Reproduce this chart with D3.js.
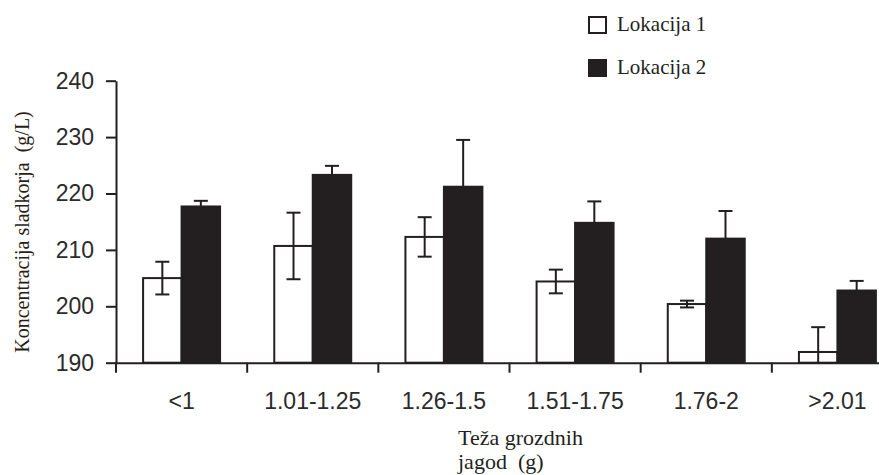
<!DOCTYPE html>
<meta charset="utf-8">
<script src="https://d3js.org/d3.v7.min.js"></script>
<div id="chart"></div>
<style>
  body { margin: 0; background: #fff; }
  text { white-space: pre; }
</style>
<script>

// data
var categories = ["<1", "1.01-1.25", "1.26-1.5", "1.51-1.75", "1.76-2", ">2.01"];
var lok1 = [205.0, 210.7, 212.3, 204.4, 200.4, 191.9];
var lok1Err = [2.9, 5.9, 3.5, 2.1, 0.6, 4.4];
var lok2 = [217.7, 223.3, 221.2, 214.8, 212.0, 202.8];
var lok2Err = [1.0, 1.6, 8.3, 3.8, 4.9, 1.7];
var yTicks = [190, 200, 210, 220, 230, 240];
var seriesNames = ["Lokacija 1", "Lokacija 2"];

var ink = "#231f20";
var width = 879, height = 475;

var svg = d3.select("#chart").append("svg")
    .attr("width", width)
    .attr("height", height);

var x = d3.scaleBand().domain(categories).range([116, 903]).padding(0);
var xSub = d3.scaleBand().domain(seriesNames).range([0, x.bandwidth()])
    .paddingInner(0).paddingOuter(0.704);
var y = d3.scaleLinear().domain([190, 240]).range([362.7, 80.7]);

// build rows
var rows = [];
categories.forEach(function(c, i) {
  rows.push({cat: c, s: seriesNames[0], v: lok1[i], e: lok1Err[i]});
  rows.push({cat: c, s: seriesNames[1], v: lok2[i], e: lok2Err[i]});
});

// bars
svg.append("g").selectAll("rect")
  .data(rows)
  .enter().append("rect")
    .attr("x", function(d) { return x(d.cat) + xSub(d.s); })
    .attr("y", function(d) { return y(d.v); })
    .attr("width", xSub.bandwidth())
    .attr("height", function(d) { return y(190) - y(d.v); })
    .attr("fill", function(d) { return d.s == seriesNames[0] ? "#fff" : ink; })
    .attr("stroke", ink)
    .attr("stroke-width", 2);

// error bars
var err = svg.append("g").attr("stroke", ink).attr("stroke-width", 2)
  .selectAll("g").data(rows).enter().append("g")
    .attr("transform", function(d) { return "translate(" + (x(d.cat) + xSub(d.s) + xSub.bandwidth() / 2) + ",0)"; });
err.append("line")
    .attr("y1", function(d) { return y(Math.max(190, d.v - d.e)); })
    .attr("y2", function(d) { return y(d.v + d.e); });
err.append("line")
    .attr("x1", -7).attr("x2", 7)
    .attr("y1", function(d) { return y(d.v + d.e); })
    .attr("y2", function(d) { return y(d.v + d.e); });
err.filter(function(d) { return d.v - d.e > 190; }).append("line")
    .attr("x1", -7).attr("x2", 7)
    .attr("y1", function(d) { return y(d.v - d.e); })
    .attr("y2", function(d) { return y(d.v - d.e); });

// y axis
var yAxis = svg.append("g")
    .attr("transform", "translate(116,0)")
    .call(d3.axisLeft(y).tickValues(yTicks).tickSize(10).tickSizeOuter(0).tickPadding(12));
yAxis.select(".domain").attr("stroke", ink).attr("stroke-width", 2);
yAxis.selectAll(".tick line").attr("stroke", ink).attr("stroke-width", 2);
yAxis.selectAll("text")
    .attr("font-family", "'Liberation Sans', Arial, sans-serif")
    .attr("font-size", 23)
    .attr("fill", "#2b2b2b");

// x axis
var xAxis = svg.append("g")
    .attr("transform", "translate(0," + y(190) + ")")
    .call(d3.axisBottom(x).tickSize(0).tickSizeOuter(0).tickPadding(30));
xAxis.select(".domain").attr("stroke", ink).attr("stroke-width", 2);
xAxis.selectAll("text")
    .attr("font-family", "'Liberation Sans', Arial, sans-serif")
    .attr("font-size", 23)
    .attr("fill", "#2b2b2b");

// ticks between the groups
xAxis.selectAll(".sep")
  .data(categories.map(function(c) { return x(c); }))
  .enter().append("line")
    .attr("x1", function(d) { return d; })
    .attr("x2", function(d) { return d; })
    .attr("y1", 0).attr("y2", 10)
    .attr("stroke", ink).attr("stroke-width", 2);

// axis titles
svg.append("text")
    .attr("transform", "translate(29,232) rotate(-90)")
    .attr("text-anchor", "middle")
    .attr("font-family", "'Liberation Serif', 'Times New Roman', serif")
    .attr("font-size", 20)
    .attr("fill", "#2a1c14")
    .text("Koncentracija sladkorja  (g/L)");

var xt = svg.append("text")
    .attr("font-family", "'Liberation Serif', 'Times New Roman', serif")
    .attr("font-size", 22)
    .attr("fill", ink);
xt.append("tspan").attr("x", 458).attr("y", 445).text("Teža grozdnih");
xt.append("tspan").attr("x", 458).attr("y", 469).text("jagod  (g)");

// legend
var legend = svg.append("g").selectAll("g")
  .data(seriesNames)
  .enter().append("g")
    .attr("transform", function(d, i) { return "translate(588," + (16 + i * 43) + ")"; });
legend.append("rect")
    .attr("x", 1).attr("y", 1)
    .attr("width", 17).attr("height", 16)
    .attr("fill", function(d, i) { return i == 0 ? "#fff" : ink; })
    .attr("stroke", ink)
    .attr("stroke-width", 2);
legend.append("text")
    .attr("x", 29).attr("y", 15)
    .attr("font-family", "'Liberation Serif', 'Times New Roman', serif")
    .attr("font-size", 21)
    .attr("fill", ink)
    .text(function(d) { return d; });

</script>
